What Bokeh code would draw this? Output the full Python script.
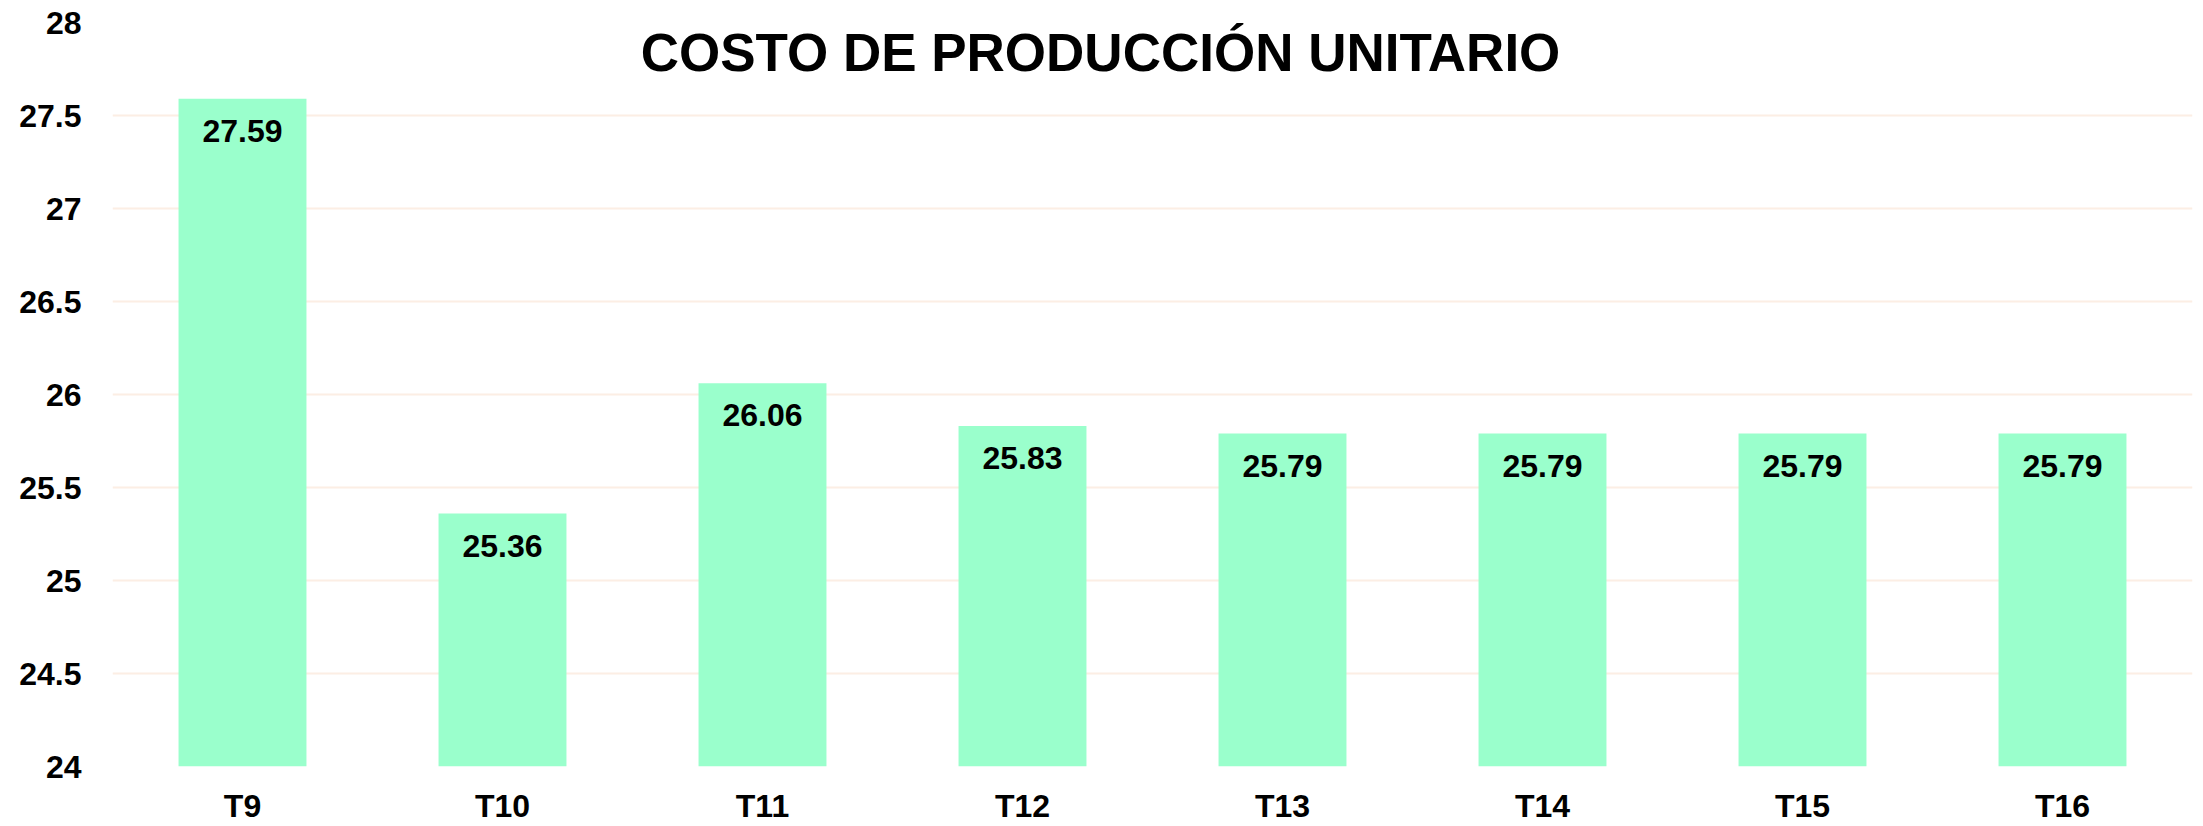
from bokeh.plotting import figure
from bokeh.models import ColumnDataSource, LabelSet, Label, FixedTicker, FactorRange, Range1d
from bokeh.core.properties import value
from bokeh.embed import file_html
from bokeh.resources import INLINE

categories = ["T9", "T10", "T11", "T12", "T13", "T14", "T15", "T16"]
costs = [27.59, 25.36, 26.06, 25.83, 25.79, 25.79, 25.79, 25.79]
cost_labels = ["27.59", "25.36", "26.06", "25.83", "25.79", "25.79", "25.79", "25.79"]
y_ticks = [24, 24.5, 25, 25.5, 26, 26.5, 27, 27.5, 28]
y_tick_labels = ["24", "24.5", "25", "25.5", "26", "26.5", "27", "27.5", "28"]
title_text = "COSTO DE PRODUCCIÓN UNITARIO"

src = ColumnDataSource(dict(cat=categories, val=costs, lab=cost_labels))

p = figure(width=2203, height=826, x_range=FactorRange(*categories), y_range=Range1d(24, 28),
           output_backend="svg", toolbar_location=None,
           min_border_left=112, min_border_right=11, min_border_top=22, min_border_bottom=58)
p.outline_line_color = None
p.background_fill_color = "white"
p.border_fill_color = "white"

p.vbar(x="cat", top="val", bottom=24, width=0.492, source=src, color="#9AFFCC", line_color=None)

labels = LabelSet(x="cat", y="val", text="lab", source=src, text_align="center", text_baseline="top",
                  y_offset=-21, text_font=value("Liberation Sans"), text_font_style="bold",
                  text_font_size="32px", text_color="black")
p.add_layout(labels)

title = Label(x=3.8, y=27.84, text=title_text, text_align="center", text_baseline="middle",
              text_font="Liberation Sans", text_font_style="bold", text_font_size="53px",
              text_color="black")
p.add_layout(title)

p.xgrid.grid_line_color = None
p.ygrid.grid_line_color = "#FCEEE4"
p.ygrid.grid_line_width = 2
p.yaxis.ticker = FixedTicker(ticks=y_ticks)
p.yaxis.major_label_overrides = {t: l for t, l in zip(y_ticks, y_tick_labels)}

for ax in (p.xaxis, p.yaxis):
    ax.axis_line_color = None
    ax.major_tick_line_color = None
    ax.minor_tick_line_color = None
    ax.major_tick_out = 0
    ax.major_tick_in = 0
    ax.major_label_text_font = "Liberation Sans"
    ax.major_label_text_font_style = "bold"
    ax.major_label_text_font_size = "32px"
    ax.major_label_text_color = "black"

p.yaxis.major_label_standoff = 31
p.xaxis.major_label_standoff = 21

open("out.html", "w").write(file_html(p, INLINE))
